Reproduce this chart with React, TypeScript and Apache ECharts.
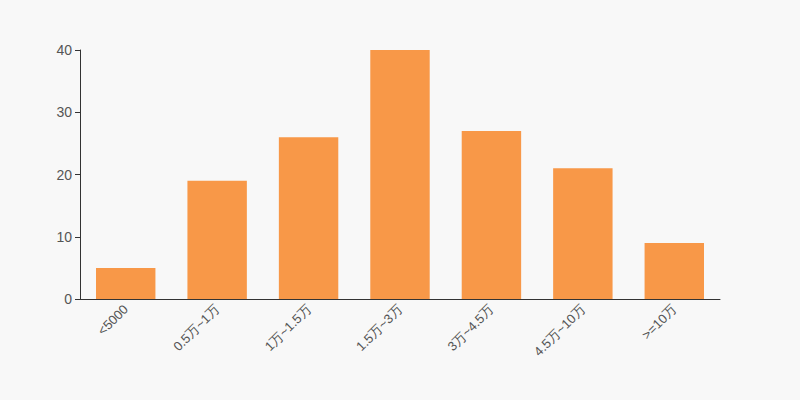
import React, { useEffect, useRef } from "react";
import * as echarts from "echarts";

const categories = ["<5000", "0.5万~1万", "1万~1.5万", "1.5万~3万", "3万~4.5万", "4.5万~10万", ">=10万"];
const values = [5, 19, 26, 40, 27, 21, 9];

export default function App() {
  const ref = useRef<HTMLDivElement>(null);
  useEffect(() => {
    document.body.style.margin = "0";
    const chart = echarts.init(ref.current!, null, { renderer: "svg" });
    chart.setOption({
      animation: false,
      backgroundColor: "#f8f8f8",
      textStyle: { fontFamily: "Liberation Sans, Arial, sans-serif" },
      grid: { left: 80, right: 80, top: 50, bottom: 101, containLabel: false },
      xAxis: {
        type: "category",
        data: categories,
        axisLine: { lineStyle: { color: "#333" } },
        axisTick: { lineStyle: { color: "#333" } },
        axisLabel: { rotate: 45, color: "#555", fontSize: 13, interval: 0 },
      },
      yAxis: {
        type: "value",
        min: 0,
        max: 40,
        interval: 10,
        splitLine: { show: false },
        axisLine: { show: true, lineStyle: { color: "#333" } },
        axisTick: { show: true, lineStyle: { color: "#333" } },
        axisLabel: { color: "#555", fontSize: 14 },
      },
      series: [
        {
          type: "bar",
          data: values,
          barWidth: "65%",
          itemStyle: { color: "#f89848" },
        },
      ],
    });
    return () => chart.dispose();
  }, []);
  return <div ref={ref} style={{ width: 800, height: 400 }} />;
}
